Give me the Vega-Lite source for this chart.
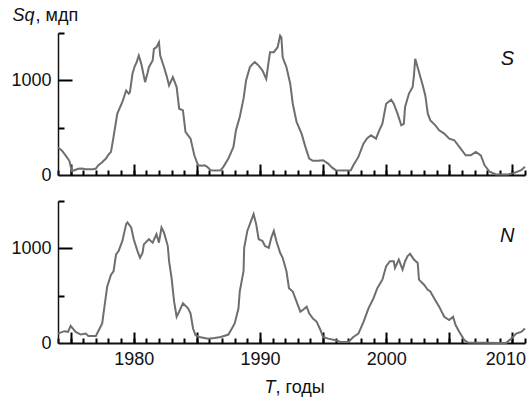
{
  "$schema": "https://vega.github.io/schema/vega-lite/v6.json",
  "padding": {"left": 10, "top": 6, "right": 4, "bottom": 2},
  "spacing": 16,
  "datasets": {
    "series": [
      {"hemi":"S","year":1974.0,"value":290},{"hemi":"S","year":1974.3,"value":260},{"hemi":"S","year":1974.6,"value":208},{"hemi":"S","year":1974.9,"value":150},{"hemi":"S","year":1975.1,"value":40},{"hemi":"S","year":1975.3,"value":50},{"hemi":"S","year":1975.6,"value":65},{"hemi":"S","year":1975.9,"value":68},{"hemi":"S","year":1976.2,"value":62},{"hemi":"S","year":1976.5,"value":60},{"hemi":"S","year":1976.8,"value":62},{"hemi":"S","year":1977.0,"value":68},{"hemi":"S","year":1977.2,"value":103},{"hemi":"S","year":1977.5,"value":135},{"hemi":"S","year":1977.8,"value":174},{"hemi":"S","year":1978.0,"value":215},{"hemi":"S","year":1978.2,"value":244},{"hemi":"S","year":1978.4,"value":402},{"hemi":"S","year":1978.7,"value":648},{"hemi":"S","year":1979.1,"value":771},{"hemi":"S","year":1979.4,"value":893},{"hemi":"S","year":1979.6,"value":860},{"hemi":"S","year":1979.7,"value":876},{"hemi":"S","year":1979.9,"value":1069},{"hemi":"S","year":1980.1,"value":1156},{"hemi":"S","year":1980.2,"value":1180},{"hemi":"S","year":1980.4,"value":1261},{"hemi":"S","year":1980.6,"value":1174},{"hemi":"S","year":1980.9,"value":981},{"hemi":"S","year":1981.1,"value":1080},{"hemi":"S","year":1981.2,"value":1139},{"hemi":"S","year":1981.5,"value":1209},{"hemi":"S","year":1981.6,"value":1332},{"hemi":"S","year":1981.8,"value":1350},{"hemi":"S","year":1982.0,"value":1403},{"hemi":"S","year":1982.1,"value":1261},{"hemi":"S","year":1982.4,"value":1139},{"hemi":"S","year":1982.6,"value":1050},{"hemi":"S","year":1982.8,"value":946},{"hemi":"S","year":1983.1,"value":1034},{"hemi":"S","year":1983.4,"value":929},{"hemi":"S","year":1983.6,"value":700},{"hemi":"S","year":1983.9,"value":682},{"hemi":"S","year":1984.1,"value":455},{"hemi":"S","year":1984.5,"value":384},{"hemi":"S","year":1984.8,"value":208},{"hemi":"S","year":1985.1,"value":103},{"hemi":"S","year":1985.4,"value":98},{"hemi":"S","year":1985.6,"value":103},{"hemi":"S","year":1985.8,"value":90},{"hemi":"S","year":1986.1,"value":51},{"hemi":"S","year":1986.5,"value":48},{"hemi":"S","year":1986.9,"value":51},{"hemi":"S","year":1987.1,"value":86},{"hemi":"S","year":1987.5,"value":174},{"hemi":"S","year":1987.9,"value":297},{"hemi":"S","year":1988.1,"value":472},{"hemi":"S","year":1988.4,"value":613},{"hemi":"S","year":1988.7,"value":806},{"hemi":"S","year":1988.9,"value":998},{"hemi":"S","year":1989.2,"value":1139},{"hemi":"S","year":1989.4,"value":1170},{"hemi":"S","year":1989.6,"value":1192},{"hemi":"S","year":1989.9,"value":1156},{"hemi":"S","year":1990.2,"value":1104},{"hemi":"S","year":1990.5,"value":1016},{"hemi":"S","year":1990.7,"value":1209},{"hemi":"S","year":1990.8,"value":1297},{"hemi":"S","year":1991.1,"value":1297},{"hemi":"S","year":1991.4,"value":1350},{"hemi":"S","year":1991.6,"value":1472},{"hemi":"S","year":1991.7,"value":1455},{"hemi":"S","year":1991.8,"value":1244},{"hemi":"S","year":1992.1,"value":1139},{"hemi":"S","year":1992.4,"value":964},{"hemi":"S","year":1992.6,"value":753},{"hemi":"S","year":1992.9,"value":560},{"hemi":"S","year":1993.3,"value":437},{"hemi":"S","year":1993.6,"value":297},{"hemi":"S","year":1993.9,"value":174},{"hemi":"S","year":1994.2,"value":150},{"hemi":"S","year":1994.6,"value":150},{"hemi":"S","year":1995.0,"value":156},{"hemi":"S","year":1995.4,"value":121},{"hemi":"S","year":1995.7,"value":80},{"hemi":"S","year":1996.0,"value":51},{"hemi":"S","year":1996.6,"value":48},{"hemi":"S","year":1997.2,"value":51},{"hemi":"S","year":1997.4,"value":103},{"hemi":"S","year":1997.8,"value":191},{"hemi":"S","year":1998.2,"value":330},{"hemi":"S","year":1998.5,"value":390},{"hemi":"S","year":1998.8,"value":419},{"hemi":"S","year":1999.2,"value":384},{"hemi":"S","year":1999.4,"value":455},{"hemi":"S","year":1999.7,"value":542},{"hemi":"S","year":2000.0,"value":753},{"hemi":"S","year":2000.4,"value":795},{"hemi":"S","year":2000.6,"value":753},{"hemi":"S","year":2000.9,"value":648},{"hemi":"S","year":2001.2,"value":525},{"hemi":"S","year":2001.4,"value":540},{"hemi":"S","year":2001.5,"value":718},{"hemi":"S","year":2001.8,"value":858},{"hemi":"S","year":2002.1,"value":929},{"hemi":"S","year":2002.2,"value":1050},{"hemi":"S","year":2002.3,"value":1227},{"hemi":"S","year":2002.6,"value":1087},{"hemi":"S","year":2002.9,"value":946},{"hemi":"S","year":2003.1,"value":840},{"hemi":"S","year":2003.3,"value":648},{"hemi":"S","year":2003.5,"value":577},{"hemi":"S","year":2003.9,"value":525},{"hemi":"S","year":2004.2,"value":472},{"hemi":"S","year":2004.6,"value":437},{"hemi":"S","year":2005.0,"value":384},{"hemi":"S","year":2005.4,"value":367},{"hemi":"S","year":2005.8,"value":297},{"hemi":"S","year":2006.3,"value":208},{"hemi":"S","year":2006.7,"value":208},{"hemi":"S","year":2007.1,"value":244},{"hemi":"S","year":2007.5,"value":208},{"hemi":"S","year":2007.8,"value":103},{"hemi":"S","year":2008.2,"value":34},{"hemi":"S","year":2008.7,"value":5},{"hemi":"S","year":2009.6,"value":5},{"hemi":"S","year":2010.1,"value":20},{"hemi":"S","year":2010.7,"value":51},{"hemi":"S","year":2011.0,"value":86},
      {"hemi":"N","year":1974.0,"value":99},{"hemi":"N","year":1974.5,"value":125},{"hemi":"N","year":1974.8,"value":118},{"hemi":"N","year":1975.0,"value":181},{"hemi":"N","year":1975.4,"value":117},{"hemi":"N","year":1975.8,"value":89},{"hemi":"N","year":1976.2,"value":99},{"hemi":"N","year":1976.4,"value":75},{"hemi":"N","year":1977.0,"value":75},{"hemi":"N","year":1977.3,"value":153},{"hemi":"N","year":1977.5,"value":206},{"hemi":"N","year":1977.7,"value":402},{"hemi":"N","year":1977.9,"value":598},{"hemi":"N","year":1978.2,"value":722},{"hemi":"N","year":1978.4,"value":758},{"hemi":"N","year":1978.6,"value":936},{"hemi":"N","year":1978.8,"value":971},{"hemi":"N","year":1979.1,"value":1078},{"hemi":"N","year":1979.4,"value":1256},{"hemi":"N","year":1979.5,"value":1273},{"hemi":"N","year":1979.8,"value":1220},{"hemi":"N","year":1980.0,"value":1096},{"hemi":"N","year":1980.3,"value":971},{"hemi":"N","year":1980.5,"value":900},{"hemi":"N","year":1980.7,"value":953},{"hemi":"N","year":1980.8,"value":1042},{"hemi":"N","year":1981.2,"value":1096},{"hemi":"N","year":1981.5,"value":1060},{"hemi":"N","year":1981.8,"value":1149},{"hemi":"N","year":1982.0,"value":1060},{"hemi":"N","year":1982.2,"value":1220},{"hemi":"N","year":1982.4,"value":1166},{"hemi":"N","year":1982.7,"value":1024},{"hemi":"N","year":1982.8,"value":864},{"hemi":"N","year":1983.0,"value":686},{"hemi":"N","year":1983.2,"value":437},{"hemi":"N","year":1983.4,"value":277},{"hemi":"N","year":1983.6,"value":331},{"hemi":"N","year":1983.9,"value":419},{"hemi":"N","year":1984.3,"value":366},{"hemi":"N","year":1984.5,"value":313},{"hemi":"N","year":1984.7,"value":153},{"hemi":"N","year":1984.9,"value":82},{"hemi":"N","year":1985.2,"value":64},{"hemi":"N","year":1985.9,"value":46},{"hemi":"N","year":1986.4,"value":53},{"hemi":"N","year":1986.9,"value":64},{"hemi":"N","year":1987.5,"value":89},{"hemi":"N","year":1987.7,"value":135},{"hemi":"N","year":1988.0,"value":206},{"hemi":"N","year":1988.3,"value":366},{"hemi":"N","year":1988.4,"value":544},{"hemi":"N","year":1988.7,"value":758},{"hemi":"N","year":1988.75,"value":1006},{"hemi":"N","year":1989.0,"value":1184},{"hemi":"N","year":1989.2,"value":1256},{"hemi":"N","year":1989.5,"value":1362},{"hemi":"N","year":1989.7,"value":1256},{"hemi":"N","year":1989.9,"value":1096},{"hemi":"N","year":1990.2,"value":1078},{"hemi":"N","year":1990.4,"value":1024},{"hemi":"N","year":1990.7,"value":1006},{"hemi":"N","year":1990.9,"value":1113},{"hemi":"N","year":1991.1,"value":1184},{"hemi":"N","year":1991.3,"value":1078},{"hemi":"N","year":1991.6,"value":953},{"hemi":"N","year":1991.8,"value":900},{"hemi":"N","year":1992.1,"value":758},{"hemi":"N","year":1992.3,"value":579},{"hemi":"N","year":1992.6,"value":544},{"hemi":"N","year":1992.9,"value":437},{"hemi":"N","year":1993.2,"value":331},{"hemi":"N","year":1993.4,"value":349},{"hemi":"N","year":1993.7,"value":384},{"hemi":"N","year":1993.9,"value":313},{"hemi":"N","year":1994.2,"value":259},{"hemi":"N","year":1994.5,"value":224},{"hemi":"N","year":1994.8,"value":135},{"hemi":"N","year":1995.0,"value":64},{"hemi":"N","year":1995.4,"value":46},{"hemi":"N","year":1996.0,"value":29},{"hemi":"N","year":1996.4,"value":11},{"hemi":"N","year":1997.0,"value":11},{"hemi":"N","year":1997.4,"value":64},{"hemi":"N","year":1997.8,"value":99},{"hemi":"N","year":1998.2,"value":220},{"hemi":"N","year":1998.6,"value":366},{"hemi":"N","year":1999.0,"value":473},{"hemi":"N","year":1999.3,"value":579},{"hemi":"N","year":1999.7,"value":669},{"hemi":"N","year":2000.0,"value":811},{"hemi":"N","year":2000.3,"value":864},{"hemi":"N","year":2000.6,"value":864},{"hemi":"N","year":2000.7,"value":793},{"hemi":"N","year":2001.0,"value":882},{"hemi":"N","year":2001.3,"value":775},{"hemi":"N","year":2001.5,"value":864},{"hemi":"N","year":2001.7,"value":918},{"hemi":"N","year":2001.9,"value":942},{"hemi":"N","year":2002.2,"value":882},{"hemi":"N","year":2002.5,"value":846},{"hemi":"N","year":2002.6,"value":669},{"hemi":"N","year":2003.0,"value":616},{"hemi":"N","year":2003.3,"value":562},{"hemi":"N","year":2003.5,"value":544},{"hemi":"N","year":2003.8,"value":473},{"hemi":"N","year":2004.2,"value":384},{"hemi":"N","year":2004.6,"value":277},{"hemi":"N","year":2005.0,"value":242},{"hemi":"N","year":2005.3,"value":277},{"hemi":"N","year":2005.5,"value":189},{"hemi":"N","year":2005.8,"value":117},{"hemi":"N","year":2006.2,"value":29},{"hemi":"N","year":2006.5,"value":5},{"hemi":"N","year":2008.9,"value":0},{"hemi":"N","year":2009.5,"value":0},{"hemi":"N","year":2009.9,"value":46},{"hemi":"N","year":2010.3,"value":99},{"hemi":"N","year":2010.7,"value":117},{"hemi":"N","year":2011.0,"value":153}
    ],
    "tags": [
      {"hemi":"S","year":2009.6,"value":1227},
      {"hemi":"N","year":2009.6,"value":1131}
    ]
  },
  "vconcat": [
    {
      "width": 467,
      "height": 142,
      "resolve": {"axis": {"x": "independent", "y": "independent"}},
      "layer": [
        {
          "data": {"name": "series"},
          "transform": [{"filter": "datum.hemi === 'S'"}],
          "mark": {"type": "line", "color": "#6e6e6e", "strokeWidth": 2},
          "encoding": {
            "x": {"field": "year", "type": "quantitative",
              "scale": {"domain": [1974, 2011], "nice": false, "zero": false},
              "axis": {"orient": "bottom", "ticks": false, "labels": false, "title": null, "domainWidth": 2}},
            "y": {"field": "value", "type": "quantitative",
              "scale": {"domain": [0, 1500], "nice": false},
              "axis": {"orient": "left", "values": [0, 1000], "format": "d", "ticks": false, "labelPadding": 7, "domainWidth": 1.5,
                "title": "Sq", "titleFontStyle": "italic", "titleAngle": 0, "titleAlign": "left", "titleBaseline": "alphabetic", "titleX": -46, "titleY": -13}}
          }
        },
        {
          "data": {"name": "tags"},
          "transform": [{"filter": "datum.hemi === 'S'"}],
          "mark": {"type": "text", "fontSize": 20, "fontStyle": "italic", "color": "#111"},
          "encoding": {
            "x": {"field": "year", "type": "quantitative",
              "axis": {"orient": "bottom", "values": [1974,1975,1976,1977,1978,1979,1980,1981,1982,1983,1984,1985,1986,1987,1988,1989,1990,1991,1992,1993,1994,1995,1996,1997,1998,1999,2000,2001,2002,2003,2004,2005,2006,2007,2008,2009,2010,2011],
                "domain": false, "labels": false, "title": null, "ticks": true, "tickColor": "black", "tickWidth": 2, "tickOpacity": 1, "tickSize": 5, "offset": -5}},
            "y": {"field": "value", "type": "quantitative",
              "axis": {"orient": "left", "values": [500, 1500], "domain": false, "labels": false, "ticks": true, "tickColor": "black", "tickWidth": 2, "tickOpacity": 1, "tickSize": 6, "offset": -6,
                "title": ", мдп", "titleAngle": 0, "titleAlign": "left", "titleBaseline": "alphabetic", "titleX": -29, "titleY": -13}},
            "text": {"field": "hemi"}
          }
        },
        {
          "data": {"name": "tags"},
          "transform": [{"filter": "datum.hemi === 'S'"}],
          "mark": {"type": "point", "opacity": 0},
          "encoding": {
            "x": {"field": "year", "type": "quantitative",
              "axis": {"orient": "bottom", "values": [1975,1980,1985,1990,1995,2000,2005,2010], "domain": false, "labels": false, "title": null, "ticks": true, "tickColor": "black", "tickWidth": 2, "tickOpacity": 1, "tickSize": 11, "offset": -11}},
            "y": {"field": "value", "type": "quantitative",
              "axis": {"orient": "left", "values": [1000], "domain": false, "labels": false, "title": null, "ticks": true, "tickColor": "black", "tickWidth": 2, "tickOpacity": 1, "tickSize": 14, "offset": -14}}
          }
        }
      ]
    },
    {
      "width": 467,
      "height": 142,
      "resolve": {"axis": {"x": "independent", "y": "independent"}},
      "layer": [
        {
          "data": {"name": "series"},
          "transform": [{"filter": "datum.hemi === 'N'"}],
          "mark": {"type": "line", "color": "#6e6e6e", "strokeWidth": 2},
          "encoding": {
            "x": {"field": "year", "type": "quantitative",
              "scale": {"domain": [1974, 2011], "nice": false, "zero": false},
              "axis": {"orient": "bottom", "values": [1980, 1990, 2000, 2010], "format": "d", "ticks": false, "labelPadding": 7, "domainWidth": 2,
                "labelOffset": {"condition": {"test": "datum.value === 2010", "value": -7}, "value": 0},
                "title": "T", "titleFontStyle": "italic", "titleAlign": "left", "titleBaseline": "alphabetic", "titleX": 206, "titleY": 49}},
            "y": {"field": "value", "type": "quantitative",
              "scale": {"domain": [0, 1500], "nice": false},
              "axis": {"orient": "left", "values": [0, 1000], "format": "d", "ticks": false, "labelPadding": 7, "domainWidth": 1.5, "title": null}}
          }
        },
        {
          "data": {"name": "tags"},
          "transform": [{"filter": "datum.hemi === 'N'"}],
          "mark": {"type": "text", "fontSize": 20, "fontStyle": "italic", "color": "#111"},
          "encoding": {
            "x": {"field": "year", "type": "quantitative",
              "axis": {"orient": "bottom", "values": [1974,1975,1976,1977,1978,1979,1980,1981,1982,1983,1984,1985,1986,1987,1988,1989,1990,1991,1992,1993,1994,1995,1996,1997,1998,1999,2000,2001,2002,2003,2004,2005,2006,2007,2008,2009,2010,2011],
                "domain": false, "labels": false, "ticks": true, "tickColor": "black", "tickWidth": 2, "tickOpacity": 1, "tickSize": 5, "offset": -5,
                "title": ", годы", "titleAlign": "left", "titleBaseline": "alphabetic", "titleX": 217, "titleY": 54}},
            "y": {"field": "value", "type": "quantitative",
              "axis": {"orient": "left", "values": [500, 1500], "domain": false, "labels": false, "title": null, "ticks": true, "tickColor": "black", "tickWidth": 2, "tickOpacity": 1, "tickSize": 6, "offset": -6}},
            "text": {"field": "hemi"}
          }
        },
        {
          "data": {"name": "tags"},
          "transform": [{"filter": "datum.hemi === 'N'"}],
          "mark": {"type": "point", "opacity": 0},
          "encoding": {
            "x": {"field": "year", "type": "quantitative",
              "axis": {"orient": "bottom", "values": [1975,1980,1985,1990,1995,2000,2005,2010], "domain": false, "labels": false, "title": null, "ticks": true, "tickColor": "black", "tickWidth": 2, "tickOpacity": 1, "tickSize": 11, "offset": -11}},
            "y": {"field": "value", "type": "quantitative",
              "axis": {"orient": "left", "values": [1000], "domain": false, "labels": false, "title": null, "ticks": true, "tickColor": "black", "tickWidth": 2, "tickOpacity": 1, "tickSize": 14, "offset": -14}}
          }
        }
      ]
    }
  ],
  "config": {
    "font": "Liberation Sans",
    "view": {"stroke": null},
    "axis": {"grid": false, "labelOverlap": false, "labelBound": false, "domainColor": "#111", "labelColor": "#111", "titleColor": "#111", "labelFontSize": 18, "titleFontSize": 18, "titleFontWeight": "normal", "labelFont": "Liberation Sans", "titleFont": "Liberation Sans"}
  }
}
